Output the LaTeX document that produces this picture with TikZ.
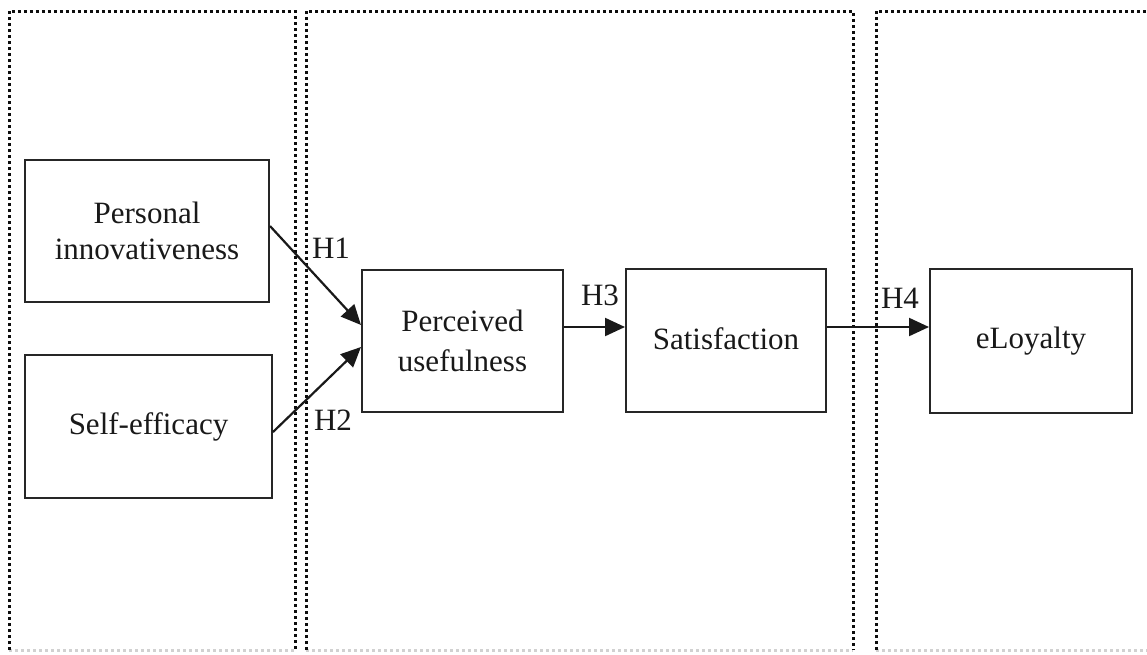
\documentclass[tikz,border=0pt]{standalone}
\usepackage{fontspec}
\setmainfont{Liberation Serif}
\usetikzlibrary{arrows.meta}
\begin{document}
\begin{tikzpicture}[x=0.5pt,y=-0.5pt,
  box/.style={draw=black!85, line width=1pt, align=center, inner sep=0pt,
    font=\fontsize{15.5}{18}\selectfont, text=black!90},
  hlabel/.style={inner sep=0pt, font=\fontsize{15.5}{18}\selectfont, text=black!90},
  arr/.style={line width=1.1pt, draw=black!90, -{Triangle[length=10pt,width=9pt]}},
  frame/.style={line width=1.5pt, dash pattern=on 1.4pt off 1.6pt, draw=black!95},
  framelow/.style={line width=1.5pt, dash pattern=on 1.4pt off 1.6pt, draw=black!18}]
\useasboundingbox (0,0) rectangle (1147,654);
\fill[white] (0,0) rectangle (1147,654);
% dotted frames
\draw[framelow] (9,650) -- (295,650);
\draw[framelow] (306,650) -- (853,650);
\draw[framelow] (876,650) -- (1147,650);
\draw[frame] (9,650) -- (9,11) -- (295,11) -- (295,650);
\draw[frame] (306,650) -- (306,11) -- (853,11) -- (853,650);
\draw[frame] (876,650) -- (876,11) -- (1147,11);
% boxes
\node[box, minimum width=122pt, minimum height=71pt] (PI) at (147,231) {Personal\\innovativeness};
\node[box, minimum width=123.5pt, minimum height=71.5pt] (SE) at (148.5,426.5) {Self-efficacy};
\node[box, minimum width=100.5pt, minimum height=71pt, font=\fontsize{15.5}{20}\selectfont] (PU) at (462.5,341) {Perceived\\usefulness};
\node[box, minimum width=100pt, minimum height=71.5pt] (SAT) at (726,340.5) {\raisebox{2pt}{Satisfaction}};
\node[box, minimum width=101pt, minimum height=72pt] (EL) at (1031,341) {eLoyalty};
% connectors
\draw[arr] ([yshift=2.5pt]PI.east) -- ([yshift=8pt]PU.west);
\draw[arr] ([yshift=-2.75pt]SE.east) -- ([yshift=-3pt]PU.west);
\draw[arr] ([yshift=7pt]PU.east) -- ([yshift=6.75pt]SAT.west);
\draw[arr] ([yshift=6.75pt]SAT.east) -- ([yshift=7pt]EL.west);
% labels
\node[hlabel] (h1) at (331,248) {H1};
\node[hlabel] (h2) at (333,420) {H2};
\node[hlabel] (h3) at (600,295) {H3};
\node[hlabel] (h4) at (900,298) {H4};
\end{tikzpicture}
\end{document}
